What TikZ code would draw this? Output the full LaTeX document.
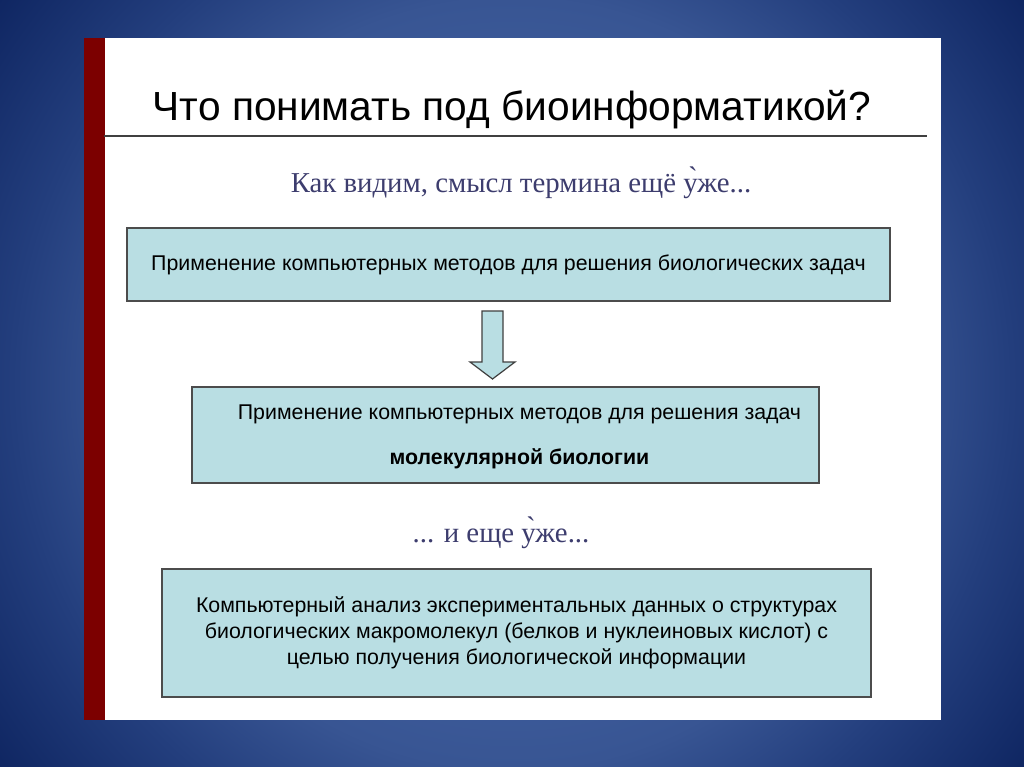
\documentclass[tikz,border=0pt]{standalone}
\usepackage{fontspec}
\setmainfont{Liberation Sans}
\newfontfamily\serifru{Liberation Serif}
\usetikzlibrary{positioning}

\definecolor{bgcentre}{HTML}{3F5E9E}
\definecolor{bgtop}{HTML}{385593}
\definecolor{bgside}{HTML}{233E7D}
\definecolor{bgedge}{HTML}{0F2662}
\definecolor{barred}{HTML}{7C0000}
\definecolor{boxfill}{HTML}{B9DEE3}
\definecolor{subblue}{HTML}{3D3D6E}

\pgfdeclareradialshading{slideglow}{\pgfpoint{0bp}{0bp}}{color(0bp)=(bgcentre); color(9.75bp)=(bgcentre); color(15bp)=(bgtop); color(19.5bp)=(bgside); color(25bp)=(bgedge); color(50bp)=(bgedge)}
\newcommand\bodyfont{\fontsize{16}{19.5}\selectfont}

\begin{document}
\begin{tikzpicture}[x=0.75pt,y=-0.75pt,
  textbox/.style={draw=black!70, line width=1.1pt, fill=boxfill, inner sep=0pt, align=center, font=\bodyfont},
  subtitle/.style={anchor=base, text=subblue, font=\serifru\fontsize{21.6}{25}\selectfont},
  arrowblock/.style={draw=black!75, line width=0.9pt, fill=boxfill, line join=miter}]
\useasboundingbox (0,0) rectangle (1024,767);
% slide background
\fill[bgedge] (0,0) rectangle (1024,767);
\begin{scope}
  \clip (0,0) rectangle (1024,767);
  \shade[shading=slideglow] (512,383.5) circle (641);
\end{scope}
\fill[white] (84,38) rectangle (941,720);
\fill[barred] (84,38) rectangle (105,720);
% heading
\node[anchor=base, font=\fontsize{30.5}{36}\selectfont] (title) at (512,120) {Что понимать под биоинформатикой?};
\draw[line width=1pt, black!75] (104,136) -- (927,136);
\node[subtitle] (narrower) at (521,192) {Как видим, смысл термина ещё у̀же...};
% boxes
\node[textbox, minimum width=572.25pt, minimum height=54.75pt] (general) at (508.5,264.5)
  {Применение компьютерных методов для решения биологических задач};
\node[textbox, minimum width=470.25pt, minimum height=72pt] (molbio) at (505.5,435) {};
\node[align=center, font=\bodyfont] (molbiotext) at (519.5,437)
  {Применение компьютерных методов для решения задач\\[14pt]\textbf{молекулярной биологии}};
\node[subtitle] (evenmore) at (501,542) {... и еще у̀же...};
\node[textbox, minimum width=531.75pt, minimum height=96pt] (macromol) at (516.5,633)
  {Компьютерный анализ экспериментальных данных о структурах\\
   биологических макромолекул (белков и нуклеиновых кислот) с\\
   целью получения биологической информации};
% block arrow
\coordinate (arrtop) at (492.5,311);
\draw[arrowblock] (arrtop) ++(-10.5,0) -- ++(21,0) -- ++(0,51) -- ++(12,0)
  -- ++(-22.5,17) -- ++(-22.5,-17) -- ++(12,0) -- cycle;
\end{tikzpicture}
\end{document}
